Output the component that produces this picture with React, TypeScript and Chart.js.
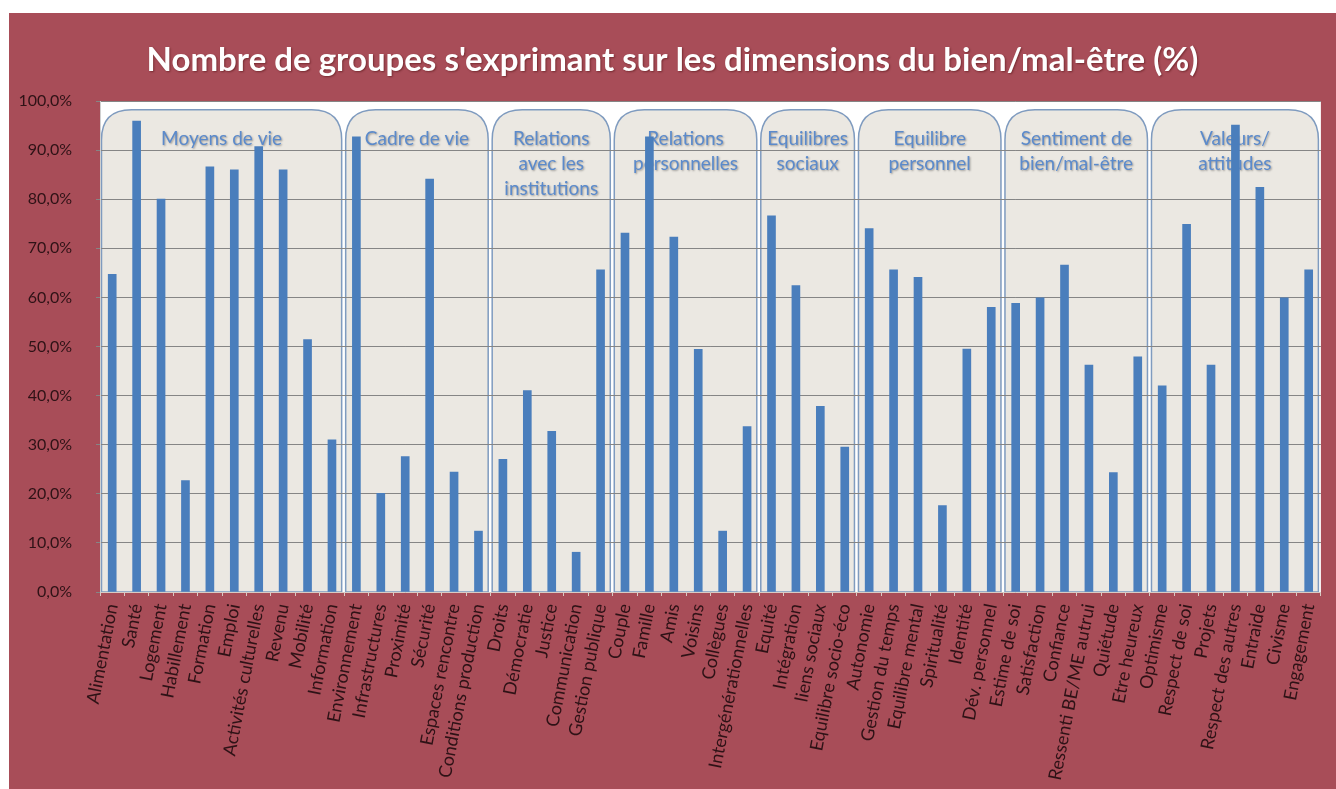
import React, { useEffect, useRef } from "react";
import { Chart, registerables } from "chart.js";

Chart.register(...registerables);

const TITLE = "Nombre de groupes s'exprimant sur les dimensions du bien/mal-être (%)";

const categories = [
  "Alimentation", "Santé", "Logement", "Habillement", "Formation", "Emploi", "Activités culturelles", "Revenu", "Mobilité", "Information",
  "Environnement", "Infrastructures", "Proximité", "Sécurité", "Espaces rencontre", "Conditions production",
  "Droits", "Démocratie", "Justice", "Communication", "Gestion publique",
  "Couple", "Famille", "Amis", "Voisins", "Collègues", "Intergénérationnelles",
  "Equité", "Intégration", "liens sociaux", "Equilibre socio-éco",
  "Autonomie", "Gestion du temps", "Equilibre mental", "Spiritualité", "Identité", "Dév. personnel",
  "Estime de soi", "Satisfaction", "Confiance", "Ressenti BE/ME autrui", "Quiétude", "Etre heureux",
  "Optimisme", "Respect de soi", "Projets", "Respect des autres", "Entraide", "Civisme", "Engagement",
];

const values = [
  64.7, 95.9, 80.0, 22.7, 86.6, 86.0, 90.7, 86.0, 51.4, 31.0,
  92.7, 20.1, 27.6, 84.1, 24.4, 12.4,
  27.0, 41.0, 32.7, 8.1, 65.6,
  73.1, 92.7, 72.3, 49.4, 12.4, 33.7,
  76.6, 62.4, 37.8, 29.5,
  74.0, 65.6, 64.1, 17.6, 49.5, 58.0,
  58.8, 59.9, 66.6, 46.2, 24.3, 47.9,
  42.0, 74.9, 46.2, 95.1, 82.4, 59.9, 65.6,
];

const groupNames = [
  ["Moyens de vie"],
  ["Cadre de vie"],
  ["Relations", "avec les", "institutions"],
  ["Relations", "personnelles"],
  ["Equilibres", "sociaux"],
  ["Equilibre", "personnel"],
  ["Sentiment de", "bien/mal-être"],
  ["Valeurs/", "attitudes"],
];
const groupSizes = [10, 6, 5, 6, 4, 6, 6, 7];

const yTicks = [0, 10, 20, 30, 40, 50, 60, 70, 80, 90, 100];

const BG = "#a84d58";
const FONT = "Lato, 'Open Sans', sans-serif";
const DARK = "#2e1216";

const decorPlugin = {
  id: "decor",
  beforeDraw(chart: any) {
    const { ctx, chartArea, scales } = chart;
    const x = scales.x;
    const y = scales.y;
    ctx.save();
    ctx.fillStyle = BG;
    ctx.fillRect(0, 0, chart.width, chart.height);
    ctx.fillStyle = "#ffffff";
    ctx.fillRect(chartArea.left, chartArea.top, chartArea.right - chartArea.left, chartArea.bottom - chartArea.top);

    // title
    ctx.fillStyle = "#ffffff";
    ctx.font = `bold 33px ${FONT}`;
    ctx.textAlign = "center";
    ctx.textBaseline = "middle";
    ctx.shadowColor = "rgba(60,0,0,0.45)";
    ctx.shadowBlur = 2;
    ctx.shadowOffsetX = 1;
    ctx.shadowOffsetY = 1;
    ctx.fillText(TITLE, (chartArea.left + chartArea.right) / 2 - 38, 47);
    ctx.shadowColor = "transparent";

    // group boxes
    const half = (x.getPixelForValue(1) - x.getPixelForValue(0)) / 2;
    const top = y.getPixelForValue(98.2);
    const bottom = chartArea.bottom;
    let start = 0;
    groupSizes.forEach((n, gi) => {
      const l = x.getPixelForValue(start) - half + 1.5;
      const r = x.getPixelForValue(start + n - 1) + half - 2.5;
      const rad = 30;
      ctx.beginPath();
      ctx.moveTo(l, bottom);
      ctx.lineTo(l, top + rad);
      ctx.quadraticCurveTo(l, top, l + rad, top);
      ctx.lineTo(r - rad, top);
      ctx.quadraticCurveTo(r, top, r, top + rad);
      ctx.lineTo(r, bottom);
      ctx.closePath();
      ctx.fillStyle = "#ebe8e2";
      ctx.fill();
      ctx.strokeStyle = "#7f9bbf";
      ctx.lineWidth = 1.5;
      ctx.stroke();

      const cx = (l + r) / 2;
      ctx.font = `19px ${FONT}`;
      ctx.textAlign = "center";
      ctx.textBaseline = "middle";
      ctx.shadowColor = "rgba(0,0,0,0.35)";
      ctx.shadowBlur = 2;
      ctx.shadowOffsetX = 1;
      ctx.shadowOffsetY = 1;
      ctx.fillStyle = "#5b8acb";
      groupNames[gi].forEach((line, li) => {
        ctx.fillText(line, cx, top + 29 + li * 25);
      });
      ctx.shadowColor = "transparent";
      start += n;
    });
    ctx.restore();
  },
};

export default function App() {
  const ref = useRef<HTMLCanvasElement | null>(null);
  useEffect(() => {
    if (!ref.current) return;
    const chart = new Chart(ref.current, {
      type: "bar",
      data: {
        labels: categories,
        datasets: [
          {
            data: values,
            backgroundColor: "#4a7ebc",
            borderColor: "#3f6fa8",
            borderWidth: 0,
            barThickness: 8,
          },
        ],
      },
      options: {
        responsive: false,
        animation: false,
        layout: { padding: { top: 88, right: 11, left: 0, bottom: 0 } },
        plugins: { legend: { display: false }, tooltip: { enabled: false }, title: { display: false } },
        scales: {
          x: {
            afterFit: (s: any) => { s.height = 197; },
            grid: { drawOnChartArea: false, drawTicks: true, tickLength: 4, color: "#d9cbc4" },
            border: { color: "#d9cbc4", width: 1 },
            ticks: {
              autoSkip: false,
              minRotation: 79,
              maxRotation: 79,
              padding: 6,
              color: DARK,
              font: { family: FONT, size: 18 },
            },
          },
          y: {
            min: 0,
            max: 100,
            afterFit: (s: any) => { s.width = 91; },
            afterBuildTicks: (s: any) => { s.ticks = yTicks.map((v) => ({ value: v })); },
            grid: { color: "#858585", lineWidth: 1, drawTicks: true, tickLength: 4 },
            border: { color: "#d0d0d0" },
            ticks: {
              padding: 24,
              color: DARK,
              font: { family: FONT, size: 16 },
              callback: (v: any) => Number(v).toFixed(1).replace(".", ",") + "%",
            },
          },
        },
      },
      plugins: [decorPlugin],
    });
    return () => chart.destroy();
  }, []);
  return (
    <div style={{ position: "fixed", left: 9, top: 13, width: 1327, height: 776 }}>
      <canvas ref={ref} width={1327} height={776} />
    </div>
  );
}
